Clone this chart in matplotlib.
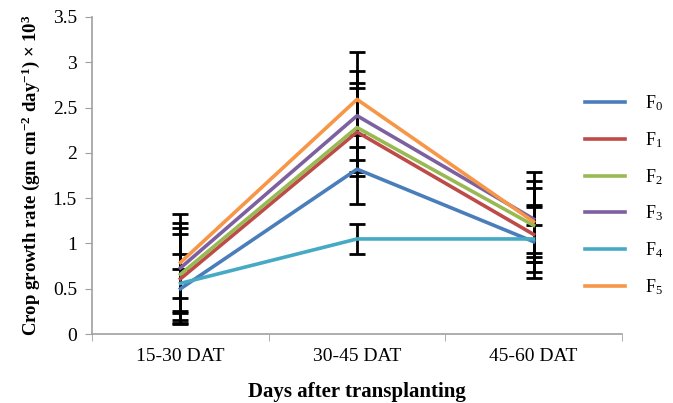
import matplotlib
matplotlib.use('Agg')
import matplotlib.pyplot as plt
from matplotlib.ticker import FixedLocator

plt.rcParams['font.family'] = ['Liberation Serif', 'DejaVu Serif']
plt.rcParams['mathtext.fontset'] = 'custom'
plt.rcParams['mathtext.rm'] = 'Liberation Serif'
plt.rcParams['mathtext.it'] = 'Liberation Serif:italic'
plt.rcParams['mathtext.bf'] = 'Liberation Serif:bold'

# data
periods = ['15-30 DAT', '30-45 DAT', '45-60 DAT']
labels = ['F$_0$', 'F$_1$', 'F$_2$', 'F$_3$', 'F$_4$', 'F$_5$']
f0 = [0.50, 1.82, 1.02]
f1 = [0.61, 2.23, 1.10]
f2 = [0.66, 2.28, 1.20]
f3 = [0.73, 2.41, 1.27]
f4 = [0.56, 1.05, 1.05]
f5 = [0.79, 2.59, 1.24]
err_f0 = [0.38, 0.38, 0.40]
err_f1 = [0.50, 0.49, 0.30]
err_f2 = [0.51, 0.49, 0.41]
err_f3 = [0.50, 0.49, 0.42]
err_f4 = [0.16, 0.17, 0.15]
err_f5 = [0.54, 0.52, 0.55]

series = [f0, f1, f2, f3, f4, f5]
errors = [err_f0, err_f1, err_f2, err_f3, err_f4, err_f5]
colors = ['#4A7EBB', '#BE4B48', '#98B954', '#7D60A0', '#46AAC5', '#F79646']

fig = plt.figure(figsize=(6.73, 4.03), dpi=100)
ax = fig.add_axes([0.137, 0.171, 0.787, 0.787])

x = list(range(len(periods)))
handles = []
for vals, err in zip(series, errors):
    ax.errorbar(x, vals, yerr=err, fmt='none', ecolor='black', elinewidth=2,
                capsize=6, capthick=2, zorder=2)
for vals, c, lab in zip(series, colors, labels):
    h, = ax.plot(x, vals, color=c, linewidth=2.6, label=lab, zorder=3)
    handles.append(h)

ax.set_xlim(-0.5, 2.5)
ax.set_ylim(0, 3.5)
ax.set_yticks([0, 0.5, 1, 1.5, 2, 2.5, 3, 3.5])
ax.set_yticklabels(['0', '0.5', '1', '1.5', '2', '2.5', '3', '3.5'])
ax.set_xticks(x)
ax.set_xticklabels(periods)
ax.xaxis.set_minor_locator(FixedLocator([-0.5, 0.5, 1.5, 2.5]))
ax.tick_params(axis='x', which='major', length=0, pad=10, labelsize=14)
ax.tick_params(axis='x', which='minor', length=5, color='#A0A0A0', direction='out')
ax.tick_params(axis='y', length=5, color='#A0A0A0', labelsize=14, pad=6)

for s in ['top', 'right']:
    ax.spines[s].set_visible(False)
for s in ['left', 'bottom']:
    ax.spines[s].set_color('#A0A0A0')
    ax.spines[s].set_linewidth(1.2)

ax.set_xlabel('Days after transplanting', fontsize=15, fontweight='bold', labelpad=12)
ax.set_ylabel(r'Crop growth rate (gm cm$^{\mathbf{-2}}$ day$^{\mathbf{-1}}$) $\mathbf{\times}$ 10$^{\mathbf{3}}$',
              fontsize=13.5, fontweight='bold', labelpad=8)

fig.legend(handles=handles, loc='upper left', bbox_to_anchor=(0.845, 0.809),
           frameon=False, fontsize=13, handlelength=2.2, labelspacing=0.95,
           handletextpad=1.1)

fig.savefig('out.png', dpi=100)
